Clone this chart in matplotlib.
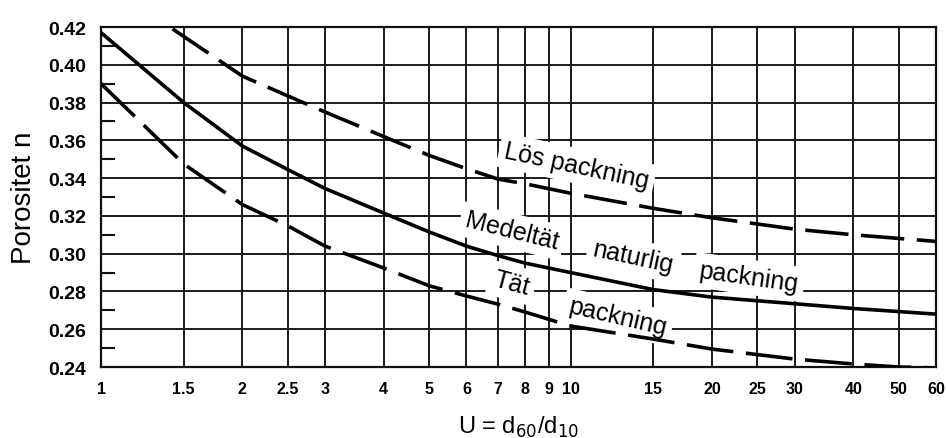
import numpy as np
import matplotlib
matplotlib.use('Agg')
import matplotlib.pyplot as plt
from matplotlib.ticker import FixedLocator, NullFormatter

plt.rcParams['font.family'] = ['Liberation Sans', 'DejaVu Sans']

# x ticks (U = d60/d10)
xticks = [1, 1.5, 2, 2.5, 3, 4, 5, 6, 7, 8, 9, 10, 15, 20, 25, 30, 40, 50, 60]
xticklabels = ['1', '1.5', '2', '2.5', '3', '4', '5', '6', '7', '8', '9', '10',
               '15', '20', '25', '30', '40', '50', '60']
yticks = [0.24, 0.26, 0.28, 0.30, 0.32, 0.34, 0.36, 0.38, 0.40, 0.42]

# Lös packning
u_los = [1.42, 1.5, 2, 2.5, 3, 4, 5, 6, 7, 8, 10, 15, 20, 30, 40, 60]
n_los = [0.419, 0.415, 0.394, 0.3835, 0.375, 0.362, 0.352, 0.345, 0.3395, 0.337,
         0.332, 0.324, 0.319, 0.313, 0.310, 0.3065]

# Medeltät naturlig packning
u_med = [1, 1.5, 2, 2.5, 3, 4, 5, 6, 7, 8, 10, 15, 20, 30, 40, 60]
n_med = [0.417, 0.380, 0.357, 0.3445, 0.3345, 0.3215, 0.3115, 0.304, 0.299, 0.295,
         0.290, 0.281, 0.277, 0.2735, 0.271, 0.268]

# Tät packning
u_tat = [1, 1.5, 2, 2.5, 3, 4, 5, 6, 7, 8, 10, 15, 20, 30, 40, 50, 60]
n_tat = [0.390, 0.3475, 0.326, 0.3147, 0.304, 0.2924, 0.283, 0.2776, 0.2733, 0.2691,
         0.2617, 0.2548, 0.2495, 0.2442, 0.2416, 0.2400, 0.2395]

fig = plt.figure(figsize=(9.46, 4.39), dpi=100)
ax = fig.add_axes([0.1068, 0.1617, 0.8826, 0.7745])

ax.set_xscale('log')
ax.set_xlim(1, 60)
ax.set_ylim(0.24, 0.42)

ax.xaxis.set_major_locator(FixedLocator(xticks))
ax.xaxis.set_minor_locator(FixedLocator([]))
ax.set_xticklabels(xticklabels, fontsize=11.5, fontweight='bold')
ax.xaxis.set_minor_formatter(NullFormatter())
ax.set_yticks(yticks)
ax.set_yticklabels(['%.2f' % v for v in yticks], fontsize=14, fontweight='bold')
ax.set_yticks(np.arange(0.25, 0.42, 0.02), minor=True)

ax.tick_params(axis='both', which='major', length=0)
ax.tick_params(axis='x', which='major', pad=10)
ax.tick_params(axis='y', which='major', pad=11)
ax.tick_params(axis='y', which='minor', direction='in', length=10, width=1.5, color='#111')

ax.set_axisbelow(True)
ax.grid(True, which='major', color='#1a1a1a', linewidth=1.4)
for s in ax.spines.values():
    s.set_linewidth(1.6)
    s.set_color('#111')

lw = 2.6
ax.plot(u_los, n_los, color='black', lw=lw, dashes=(12, 3.5), zorder=3)
ax.plot(u_med, n_med, color='black', lw=lw, zorder=3)
ax.plot(u_tat, n_tat, color='black', lw=lw, dashes=(13, 3.5), zorder=3)

box = dict(facecolor='white', edgecolor='none', pad=4)
txt = dict(fontsize=18, ha='center', va='center', bbox=box, zorder=2.5)
ax.text(10.3, 0.3465, 'Lös packning', rotation=-12, **txt)
ax.text(7.5, 0.312, 'Medeltät', rotation=-14, **txt)
ax.text(13.6, 0.2982, 'naturlig', rotation=-12, **txt)
ax.text(24.0, 0.2876, 'packning', rotation=-8, **txt)
ax.text(7.5, 0.2845, 'Tät', rotation=-15, **txt)
ax.text(12.6, 0.2665, 'packning', rotation=-13, **txt)

ax.set_xlabel('U = d$_{60}$/d$_{10}$', fontsize=17, labelpad=13)
ax.set_ylabel('Porositet n', fontsize=20, labelpad=8)

fig.savefig('out.png', dpi=100)
